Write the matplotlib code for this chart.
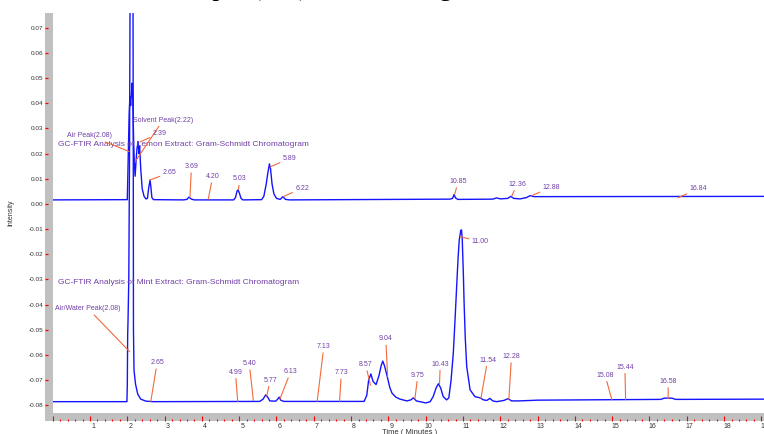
import matplotlib
matplotlib.use("Agg")
import matplotlib.pyplot as plt
from matplotlib.patches import Rectangle
from matplotlib.transforms import ScaledTranslation

plt.rcParams["font.family"] = ["Liberation Sans", "DejaVu Sans"]

# lemon extract trace: time in minutes, intensity
lemon_time = [0.0, 2.00, 2.03, 2.05, 2.07, 2.09, 2.11, 2.13, 2.15, 2.17, 2.19, 2.21,
              2.23, 2.26, 2.29, 2.31, 2.33, 2.36, 2.40, 2.45, 2.50, 2.54, 2.57, 2.61,
              2.63, 2.66, 2.70, 3.50, 3.60, 3.65, 3.72, 3.80, 4.85, 4.90, 4.94, 4.97,
              5.00, 5.05, 5.10, 5.60, 5.66, 5.72, 5.77, 5.81, 5.84, 5.88, 5.93, 6.00,
              6.10, 6.17, 6.24, 6.35, 10.65, 10.72, 10.76, 10.80, 10.86, 11.80, 11.90,
              12.00, 12.20, 12.28, 12.36, 12.53, 12.70, 12.80, 12.90, 13.20, 19.07]
lemon_int = [0.0016, 0.0017, 0.022, 0.036, 0.0427, 0.039, 0.044, 0.048, 0.040, 0.025,
             0.016, 0.011, 0.016, 0.022, 0.0248, 0.020, 0.023, 0.014, 0.006, 0.0030,
             0.0020, 0.0022, 0.0060, 0.0095, 0.0070, 0.0025, 0.0017, 0.0016, 0.0018,
             0.0027, 0.0019, 0.0016, 0.0016, 0.0025, 0.0050, 0.0056, 0.0045, 0.0022,
             0.0016, 0.0017, 0.0030, 0.0075, 0.0125, 0.0159, 0.0140, 0.0080, 0.0040,
             0.0022, 0.0018, 0.0029, 0.0018, 0.0016, 0.0019, 0.0022, 0.0037, 0.0024,
             0.0018, 0.0019, 0.0024, 0.0020, 0.0022, 0.0030, 0.0022, 0.0020, 0.0025,
             0.0033, 0.0029, 0.0029, 0.0030]

# mint extract trace
mint_time = [0.0, 1.99, 2.00, 2.01, 2.02, 2.04, 2.06, 2.08, 2.115, 2.15, 2.16, 2.165,
             2.18, 2.22, 2.28, 2.36, 2.50, 2.70, 5.55, 5.64, 5.71, 5.77, 5.82, 5.98,
             6.03, 6.07, 6.12, 6.20, 8.35, 8.42, 8.47, 8.53, 8.59, 8.67, 8.75, 8.81,
             8.85, 8.90, 8.97, 9.04, 9.10, 9.20, 9.31, 9.50, 9.60, 9.67, 9.75, 10.00,
             10.12, 10.20, 10.28, 10.34, 10.40, 10.47, 10.56, 10.62, 10.68, 10.74,
             10.79, 10.83, 10.87, 10.90, 10.94, 10.96, 10.98, 11.01, 11.03, 11.06,
             11.10, 11.19, 11.32, 11.46, 11.55, 11.64, 11.72, 11.80, 11.90, 12.10,
             12.21, 12.30, 12.50, 13.00, 16.30, 16.40, 16.60, 16.70, 19.07]
mint_int = [-0.0785, -0.0785, -0.072, -0.052, -0.046, -0.030, 0.020, 0.110, 0.14, 0.110,
            0.020, -0.050, -0.066, -0.0715, -0.0755, -0.0775, -0.0783, -0.0785, -0.0784,
            -0.0775, -0.0758, -0.0768, -0.0782, -0.0783, -0.0775, -0.0767, -0.0780,
            -0.0784, -0.0784, -0.0760, -0.0700, -0.0675, -0.0705, -0.0717, -0.0680,
            -0.0640, -0.0624, -0.0645, -0.0686, -0.0730, -0.0752, -0.0767, -0.0775,
            -0.0782, -0.0778, -0.0770, -0.0782, -0.0790, -0.0785, -0.0765, -0.0730,
            -0.0714, -0.0730, -0.0765, -0.0778, -0.0770, -0.0700, -0.0593, -0.0450,
            -0.0328, -0.0210, -0.0143, -0.0105, -0.0103, -0.0140, -0.0280, -0.0394,
            -0.0530, -0.0646, -0.0738, -0.0765, -0.0770, -0.0778, -0.0780, -0.0772,
            -0.0782, -0.0785, -0.0780, -0.0773, -0.0782, -0.0782, -0.0779, -0.0776,
            -0.0771, -0.0771, -0.0776, -0.0775]

# peak labels: text, peak time, peak intensity
lemon_labels = ["Air Peak(2.08)", "Solvent Peak(2.22)", "2.39", "2.65", "3.69", "4.20",
                "5.03", "5.89", "6.22", "10.85", "12.36", "12.88", "16.84"]
lemon_peak_t = [2.05, 2.21, 2.34, 2.61, 3.68, 4.17, 4.98, 5.83, 6.18, 10.78, 12.31, 12.84, 16.77]
lemon_peak_v = [0.0208, 0.0168, 0.0246, 0.0095, 0.0027, 0.0019, 0.0058, 0.0147, 0.0029,
                0.0039, 0.0032, 0.0033, 0.0025]
lemon_text_xy = [(0.99, 0.0271), (2.96, 0.0333), (2.87, 0.0281), (3.13, 0.0124),
                 (3.72, 0.0148), (4.29, 0.0108), (5.02, 0.0099), (6.35, 0.0181),
                 (6.69, 0.0062), (10.87, 0.0089), (12.45, 0.0078), (13.37, 0.0066),
                 (17.31, 0.0060)]

mint_labels = ["Air/Water Peak(2.08)", "2.65", "4.99", "5.40", "5.77", "6.13", "7.13",
               "7.73", "8.57", "9.04", "9.75", "10.43", "11.00", "11.54", "12.28",
               "15.08", "15.44", "16.58"]
mint_peak_t = [2.06, 2.63, 4.96, 5.38, 5.74, 6.09, 7.09, 7.69, 8.52, 8.98, 9.71, 10.37,
               10.93, 11.48, 12.23, 14.99, 15.36, 16.50]
mint_peak_v = [-0.0586, -0.0784, -0.0784, -0.0781, -0.0762, -0.0775, -0.0784, -0.0784,
               -0.0720, -0.0686, -0.0774, -0.0716, -0.0130, -0.0772, -0.0775, -0.0777,
               -0.0777, -0.0772]
mint_text_xy = [(0.95, -0.0416), (2.80, -0.0630), (4.90, -0.0668), (5.27, -0.0634),
                (5.83, -0.0700), (6.38, -0.0666), (7.27, -0.0566), (7.74, -0.0670),
                (8.39, -0.0638), (8.93, -0.0536), (9.79, -0.0680), (10.39, -0.0636),
                (11.46, -0.0150), (11.66, -0.0620), (12.30, -0.0606), (14.81, -0.0680),
                (15.34, -0.0648), (16.50, -0.0705)]

lemon_title = "GC-FTIR Analysis of Lemon Extract: Gram-Schmidt Chromatogram"
mint_title = "GC-FTIR Analysis of Mint Extract: Gram-Schmidt Chromatogram"

y_ticks = [0.07, 0.06, 0.05, 0.04, 0.03, 0.02, 0.01, 0.00, -0.01, -0.02, -0.03,
           -0.04, -0.05, -0.06, -0.07, -0.08]
x_ticks = list(range(0, 20))

W, H = 764, 434
purple = "#7040A8"
lead = "#F26A3C"
blue = "#1414FF"

fig = plt.figure(figsize=(W / 100, H / 100), dpi=100)
ax = fig.add_axes([52.7 / W, 1 - 413 / H, (W - 52.7) / W, 400 / H])
ax.patch.set_visible(False)
ax.set_xlim(0, 19.07)
ax.set_ylim(-0.083, 0.0758)

ax.plot(lemon_time, lemon_int, color=blue, lw=1.0)
ax.plot(mint_time, mint_int, color=blue, lw=1.0)

# grey axis bars
fig.add_artist(Rectangle((45 / W, 1 - 421 / H), 7.7 / W, 408 / H, transform=fig.transFigure,
                         facecolor="#C0C0C0", edgecolor="none", zorder=-1))
fig.add_artist(Rectangle((45 / W, 1 - 421 / H), (W - 45) / W, 8 / H, transform=fig.transFigure,
                         facecolor="#C0C0C0", edgecolor="none", zorder=-1))

for s in ax.spines.values():
    s.set_visible(False)
ax.spines["left"].set_position(("outward", 7.7 * 0.72))
ax.spines["bottom"].set_position(("outward", 8 * 0.72))

ax.set_yticks(y_ticks)
ax.set_yticklabels(["%.2f" % v for v in y_ticks])
ax.set_xticks(x_ticks)
ax.set_xticklabels([""] + [str(v) for v in x_ticks[1:]])
ax.set_xticks([i * 0.2 for i in range(0, 96)], minor=True)
ax.tick_params(axis="y", direction="in", length=2.2, width=0.9, color="red",
               labelsize=4.6, labelcolor="#333333", pad=1)
ax.tick_params(axis="x", which="major", direction="in", length=3.6, width=0.8,
               color="red", labelsize=5, labelcolor="#333333", pad=1.5)
ax.tick_params(axis="x", which="minor", direction="in", length=1.6, width=0.8, color="red")

# labels sit a few pixels right of their tick
shift = ScaledTranslation(3 / 100, 0, fig.dpi_scale_trans)
for lbl in ax.get_xticklabels():
    lbl.set_transform(lbl.get_transform() + shift)

ax.set_ylabel("Intensity", fontsize=5, color="#333333")
ax.yaxis.set_label_coords(-0.054, 0.5)
fig.text(410 / W, 1 - 429 / H, "Time ( Minutes )", fontsize=5.5, color="#333333",
         ha="center", va="top")

# cut-off caption line above the chart, only descenders show
fig.text(164 / W, 1 + 5 / H, "Sample (GC) - Chromatogram", fontsize=19.5,
         family=["Liberation Serif"], ha="left", va="baseline", color="black")

ax.text(0.15, 0.0234, lemon_title, fontsize=6.05, color=purple, ha="left", va="center")
ax.text(0.15, -0.0310, mint_title, fontsize=6.05, color=purple, ha="left", va="center")

for labels, pt, pv, txy in [(lemon_labels, lemon_peak_t, lemon_peak_v, lemon_text_xy),
                            (mint_labels, mint_peak_t, mint_peak_v, mint_text_xy)]:
    for lab, t, v, xy in zip(labels, pt, pv, txy):
        ax.annotate(lab, xy=(t, v), xytext=xy, ha="center", va="center", fontsize=5,
                    color=purple, annotation_clip=False,
                    arrowprops=dict(arrowstyle="-", color=lead, lw=0.8,
                                    shrinkA=0, shrinkB=0))

fig.savefig("out.png", dpi=100)
